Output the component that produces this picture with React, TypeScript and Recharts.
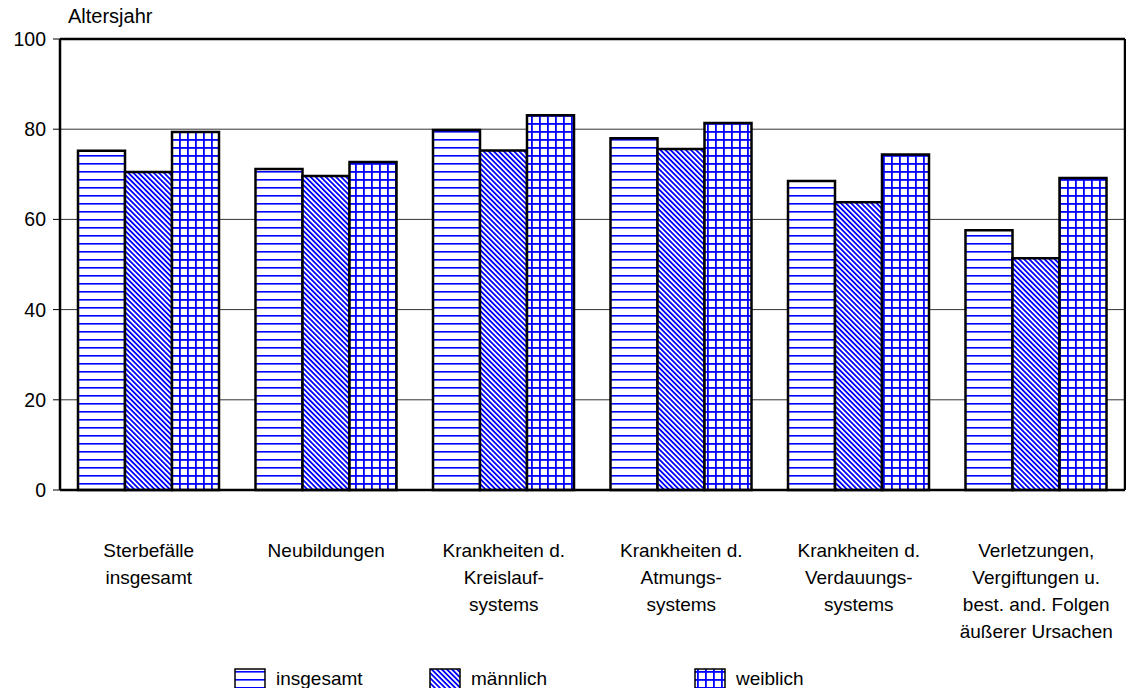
import React from "react";
import {
  BarChart,
  Bar,
  XAxis,
  YAxis,
  CartesianGrid,
  ReferenceLine,
} from "recharts";

// Todesursachen: durchschnittliches Sterbealter
const categories = [
  "Sterbefälle\ninsgesamt",
  "Neubildungen",
  "Krankheiten d.\nKreislauf-\nsystems",
  "Krankheiten d.\nAtmungs-\nsystems",
  "Krankheiten d.\nVerdauungs-\nsystems",
  "Verletzungen,\nVergiftungen u.\nbest. and. Folgen\näußerer Ursachen",
];
const insgesamt = [75.2, 71.2, 79.8, 78.0, 68.5, 57.6];
const maennlich = [70.5, 69.6, 75.3, 75.6, 63.8, 51.4];
const weiblich = [79.4, 72.7, 83.1, 81.4, 74.4, 69.2];
const yTicks = [0, 20, 40, 60, 80, 100];

const data = categories.map((name, i) => ({
  name,
  insgesamt: insgesamt[i],
  maennlich: maennlich[i],
  weiblich: weiblich[i],
}));

const FONT = "'Liberation Sans', Arial, sans-serif";
const BLUE = "#0000ff";

const Patterns = () => (
  <defs>
    <pattern id="pHoriz" width="8" height="8" patternUnits="userSpaceOnUse">
      <rect width="8" height="8" fill="#fff" />
      <rect y="3" width="8" height="1.6" fill={BLUE} />
    </pattern>
    <pattern
      id="pDiag"
      width="3.6"
      height="3.6"
      patternUnits="userSpaceOnUse"
      patternTransform="rotate(-45)"
    >
      <rect width="3.6" height="3.6" fill="#fff" />
      <rect width="1.8" height="3.6" fill={BLUE} />
    </pattern>
    <pattern id="pGrid" width="8" height="8" patternUnits="userSpaceOnUse">
      <rect width="8" height="8" fill="#fff" />
      <rect x="3" width="1.8" height="8" fill={BLUE} />
      <rect y="3" width="8" height="1.8" fill={BLUE} />
    </pattern>
  </defs>
);

const CategoryTick = ({ x, y, payload }: any) => {
  const lines = String(payload.value).split("\n");
  return (
    <text x={x} y={y} textAnchor="middle" fontFamily={FONT} fontSize={19} fill="#000">
      {lines.map((l, i) => (
        <tspan key={i} x={x} y={y + 52 + i * 27} dominantBaseline="central">
          {l}
        </tspan>
      ))}
    </text>
  );
};

const legendItems = [
  { label: "insgesamt", fill: "url(#pHoriz)", left: 234 },
  { label: "männlich", fill: "url(#pDiag)", left: 429 },
  { label: "weiblich", fill: "url(#pGrid)", left: 694 },
];

export default function App() {
  return (
    <div style={{ position: "relative", width: 1134, height: 696, margin: -8, fontFamily: FONT }}>
      <BarChart
        width={1134}
        height={696}
        data={data}
        margin={{ top: 39, right: 8, left: 0, bottom: 0 }}
        barCategoryGap={18}
        barGap={0}
      >
        <Patterns />
        <CartesianGrid vertical={false} stroke="#333" strokeWidth={1} />
        <XAxis
          dataKey="name"
          height={206}
          interval={0}
          axisLine={{ stroke: "#000", strokeWidth: 2.5 }}
          tickLine={false}
          tick={<CategoryTick />}
        />
        <YAxis
          domain={[0, 100]}
          ticks={yTicks}
          width={60}
          interval={0}
          axisLine={{ stroke: "#000", strokeWidth: 2.5 }}
          tickLine={{ stroke: "#000" }}
          tickSize={7}
          tickMargin={7}
          tick={{ fill: "#000", fontSize: 19.5, fontFamily: FONT }}
        />
        <YAxis
          yAxisId="right"
          orientation="right"
          domain={[0, 100]}
          width={1}
          tick={false}
          tickLine={false}
          axisLine={{ stroke: "#000", strokeWidth: 2.5 }}
        />
        <ReferenceLine y={100} stroke="#000" strokeWidth={2.5} />
        <Bar dataKey="insgesamt" fill="url(#pHoriz)" stroke="#000" strokeWidth={2.5} isAnimationActive={false} />
        <Bar dataKey="maennlich" fill="url(#pDiag)" stroke="#000" strokeWidth={2.5} isAnimationActive={false} />
        <Bar dataKey="weiblich" fill="url(#pGrid)" stroke="#000" strokeWidth={2.5} isAnimationActive={false} />
      </BarChart>
      <div style={{ position: "absolute", left: 68, top: 5, fontSize: 20, color: "#000" }}>Altersjahr</div>
      {legendItems.map((it) => (
        <div
          key={it.label}
          style={{ position: "absolute", left: it.left, top: 668, display: "flex", alignItems: "center", fontSize: 19 }}
        >
          <svg width={32} height={22} style={{ display: "block" }}>
            <rect x={1} y={1} width={30} height={20} fill={it.fill} stroke="#000" strokeWidth={1.5} />
          </svg>
          <span style={{ marginLeft: 10 }}>{it.label}</span>
        </div>
      ))}
    </div>
  );
}
